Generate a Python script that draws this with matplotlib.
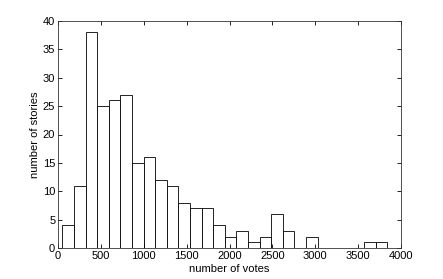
import numpy as np
import matplotlib.pyplot as plt

plt.rcParams['font.family'] = ['Liberation Sans', 'DejaVu Sans']

# histogram counts, 28 equal bins between the lowest and highest vote count
counts = [4, 11, 38, 25, 26, 27, 15, 16, 12, 11, 8, 7, 7, 4,
          2, 3, 1, 2, 6, 3, 0, 2, 0, 0, 0, 0, 1, 1]
vote_min = 50
vote_max = 3840
xticks = [0, 500, 1000, 1500, 2000, 2500, 3000, 3500, 4000]
yticks = [0, 5, 10, 15, 20, 25, 30, 35, 40]

edges = np.linspace(vote_min, vote_max, len(counts) + 1)
width = edges[1] - edges[0]

fig = plt.figure(figsize=(4.43, 2.79), dpi=100)
ax = fig.add_axes([58 / 443, 31 / 279, 343 / 443, 227 / 279])

nonzero = [i for i, c in enumerate(counts) if c > 0]
ax.bar(edges[:-1][nonzero], np.array(counts)[nonzero], width=width,
       align='edge', color='white', edgecolor='black', linewidth=0.6)

ax.set_xlim(0, 4000)
ax.set_ylim(0, 40)
ax.set_xticks(xticks)
ax.set_yticks(yticks)
ax.tick_params(direction='in', top=True, right=True, length=3,
               width=0.6, labelsize=8, pad=2)
for s in ax.spines.values():
    s.set_linewidth(0.6)
    s.set_color('#333333')

ax.set_xlabel('number of votes', fontsize=8, labelpad=2.5)
ax.set_ylabel('number of stories', fontsize=8, labelpad=2)

fig.savefig('out.png', dpi=100)
